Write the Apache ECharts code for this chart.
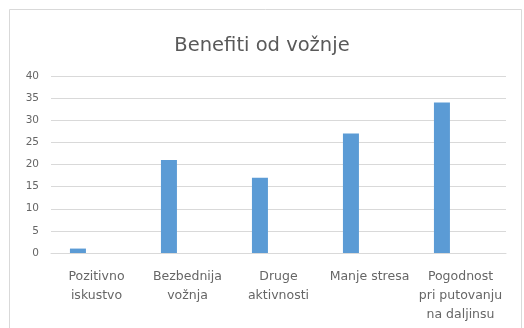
<!DOCTYPE html>
<html>
<head>
<meta charset="utf-8">
<script src="https://cdn.jsdelivr.net/npm/echarts@6/dist/echarts.min.js"></script>
<style>html,body{margin:0;padding:0;background:#fff;}#c{width:524px;height:328px;}</style>
</head>
<body>
<div id="c"></div>
<script>
const titleText = 'Benefiti od vožnje';
const categories = ['Pozitivno\niskustvo', 'Bezbednija\nvožnja', 'Druge\naktivnosti', 'Manje stresa', 'Pogodnost\npri putovanju\nna daljinsu'];
const values = [1, 21, 17, 27, 34];
const emptySeries2 = [null, null, null, null, null];
const emptySeries3 = [null, null, null, null, null];
const yTicks = { min: 0, max: 40, interval: 5 };

const chart = echarts.init(document.getElementById('c'), null, { renderer: 'canvas' });
const fontFamily = '"DejaVu Sans", "Open Sans", sans-serif';
chart.setOption({
  animation: false,
  backgroundColor: '#fff',
  title: {
    text: titleText,
    left: 'center',
    top: 31,
    textStyle: { fontFamily, fontSize: 19.5, fontWeight: 'normal', color: '#595959' }
  },
  graphic: [{
    type: 'rect',
    shape: { x: 9.5, y: 9.5, width: 512, height: 330 },
    style: { fill: 'none', stroke: '#d9d9d9', lineWidth: 1 },
    silent: true
  }],
  grid: { left: 51, right: 18, top: 76, bottom: 75 },
  xAxis: {
    type: 'category',
    data: categories,
    axisLine: { show: true, lineStyle: { color: '#d9d9d9' } },
    axisTick: { show: false },
    axisLabel: { fontFamily, fontSize: 12.5, color: '#666666', margin: 14, lineHeight: 19, interval: 0 }
  },
  yAxis: {
    type: 'value',
    min: yTicks.min, max: yTicks.max, interval: yTicks.interval,
    axisLine: { show: false },
    axisTick: { show: false },
    splitLine: { lineStyle: { color: '#d9d9d9' } },
    axisLabel: { fontFamily, fontSize: 10.5, color: '#666666', margin: 12 }
  },
  series: [
    { type: 'bar', name: 'Serija 1', data: values, barWidth: 16, barGap: '16%', itemStyle: { color: '#5b9bd5' } },
    { type: 'bar', name: 'Serija 2', data: emptySeries2, barWidth: 16, barGap: '16%', itemStyle: { color: '#ed7d31' } },
    { type: 'bar', name: 'Serija 3', data: emptySeries3, barWidth: 16, barGap: '16%', itemStyle: { color: '#a5a5a5' } }
  ]
});
</script>
</body>
</html>
